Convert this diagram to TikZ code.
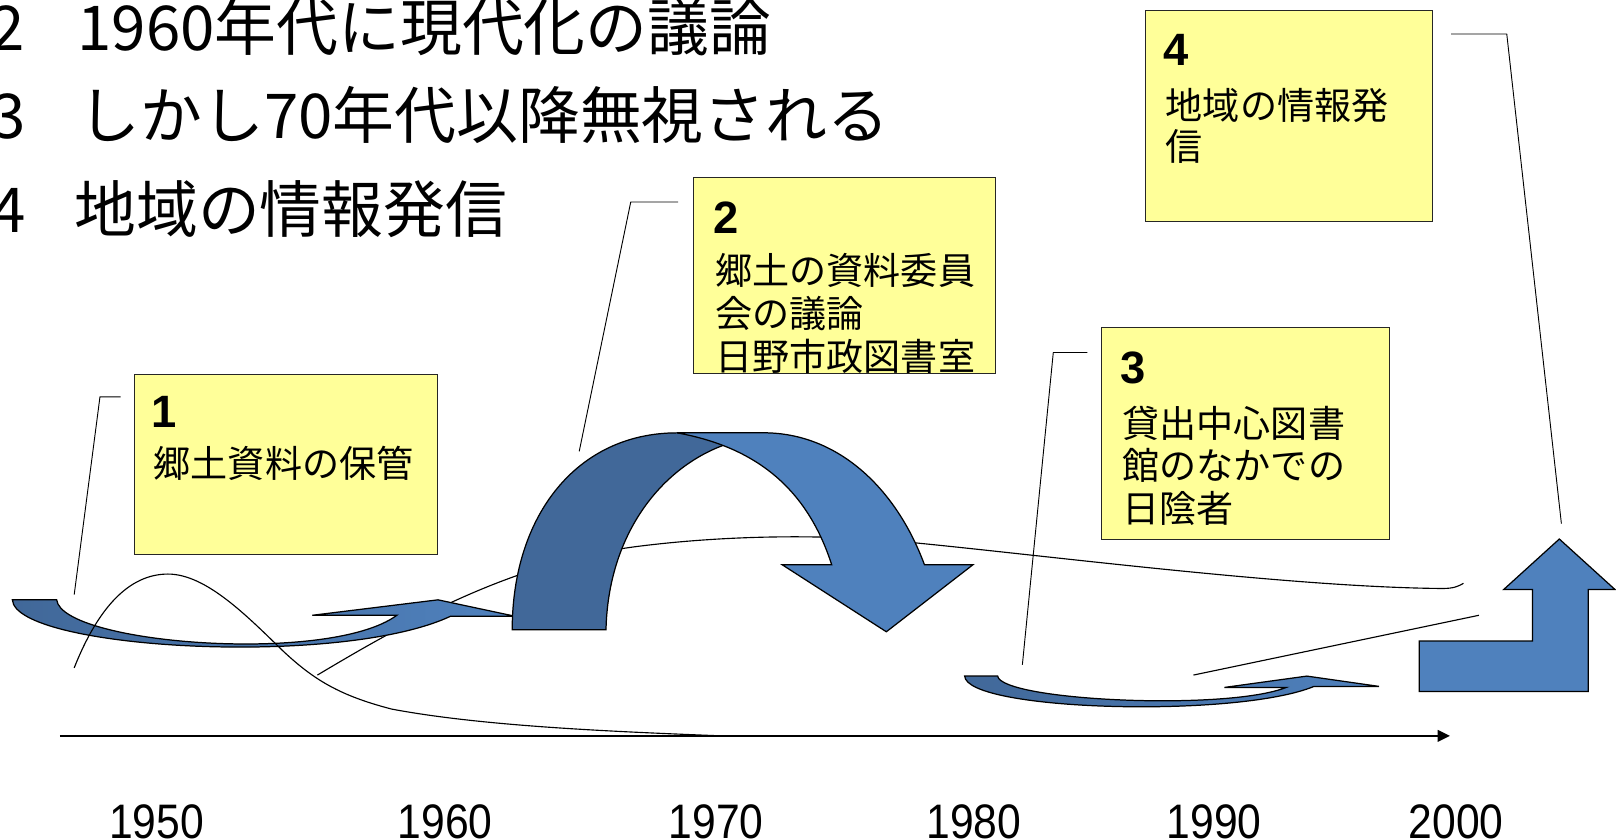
\documentclass[tikz,border=0pt]{standalone}
\usepackage{fontspec}
\usetikzlibrary{arrows.meta}
\newfontfamily\jpfont{Noto Sans CJK JP}
\newfontfamily\numfont{Liberation Sans}
\newfontfamily\yearfont[FakeStretch=0.88]{Liberation Sans}
\definecolor{bdark}{RGB}{65,104,153}
\definecolor{blight}{RGB}{79,129,189}
\definecolor{notefill}{RGB}{255,255,153}
\begin{document}
\begin{tikzpicture}[x=1pt,y=-1pt,
  notebox/.style={draw=black!85, fill=notefill, line width=0.9pt, inner sep=0pt},
  boxnum/.style={anchor=west, inner sep=0pt, font=\numfont\bfseries\fontsize{44}{44}\selectfont},
  boxtxt/.style={anchor=west, inner sep=0pt, align=left, font=\jpfont\fontsize{36}{41}\selectfont},
  titletxt/.style={anchor=west, inner sep=0pt, font=\jpfont\fontsize{60}{70}\selectfont},
  yearlbl/.style={inner sep=0pt, font=\yearfont\fontsize{47}{47}\selectfont},
  fineline/.style={draw=black, line width=0.9pt},
  curveline/.style={draw=black, line width=1.1pt},
  shapeline/.style={draw=black, line width=1.2pt, line join=miter},
  shadedarrow/.style={shapeline, left color=bdark, right color=blight},
]
\fill[white] (0,0) rectangle (1568,814);
\path[use as bounding box] (0,0) rectangle (1568,814);

% title lines
\node[titletxt] (title2) at (-9,26) {\makebox[84pt][l]{2}1960年代に現代化の議論};
\node[titletxt] (title3) at (-8,112) {\makebox[84pt][l]{3}しかし70年代以降無視される};
\node[titletxt] (title4) at (-8,203) {\makebox[80pt][l]{4}地域の情報発信};

% background curves
\draw[curveline] (308,655) .. controls (400,600) and (500,545) .. (620,530)
  .. controls (700,520) and (790,518) .. (870,525)
  .. controls (1000,537) and (1250,570) .. (1400,571)
  .. controls (1410,571) and (1415,569) .. (1420,566);
\coordinate (lcA) at (1158,655);
\coordinate (lcB) at (1435,597);
\draw[curveline] (lcA) -- (lcB);

% curved arrow 1
\shadedraw[shadedarrow] (12,582) -- (55,582) .. controls (60,625) and (320,645) .. (385,597)
  -- (303,597) -- (425,582) -- (500,598) -- (437,598)
  .. controls (330,648) and (15,630) .. (12,582) -- cycle;

% big arch arrow: dark leg
\filldraw[shapeline, fill=bdark] (497,611) .. controls (497,500) and (560,420) .. (657,420)
  -- (725,420) -- (702,432) .. controls (640,455) and (590,520) .. (588,611) -- cycle;
% light band with head
\filldraw[shapeline, fill=blight] (657,420) -- (745,420) .. controls (815,422) and (870,475) .. (897,548)
  -- (944,548) -- (860,613) -- (759,548) -- (807,548)
  .. controls (785,480) and (740,435) .. (657,420) -- cycle;

% curved arrow 3
\shadedraw[shadedarrow] (936,656) -- (968,656) .. controls (972,680) and (1190,690) .. (1248,667)
  -- (1188,667) -- (1268,656) -- (1338,666) -- (1275,666)
  .. controls (1200,697) and (938,690) .. (936,656) -- cycle;

% bent-up arrow
\filldraw[shapeline, fill=blight] (1377,622) -- (1487,622) -- (1487,572) -- (1459,572)
  -- (1513,523) -- (1567,572) -- (1541,572) -- (1541,671) -- (1377,671) -- cycle;

% bell curve
\draw[curveline] (72,648) .. controls (95,590) and (125,557) .. (163,557)
  .. controls (200,557) and (240,598) .. (275,632)
  .. controls (305,660) and (330,675) .. (380,688)
  .. controls (470,705) and (600,710) .. (700,714);

% time axis
\coordinate (axL) at (58,714);
\coordinate (axR) at (1407,714);
\draw[line width=2.5pt, -{Triangle[length=12pt,width=11pt]}] (axL) -- (axR);

% year labels
\node[yearlbl] (y1950) at (152,797) {1950};
\node[yearlbl] (y1960) at (432,797) {1960};
\node[yearlbl] (y1970) at (695,797) {1970};
\node[yearlbl] (y1980) at (945,797) {1980};
\node[yearlbl] (y1990) at (1178,797) {1990};
\node[yearlbl] (y2000) at (1413,797) {2000};

% note boxes
\node[notebox, minimum width=294pt, minimum height=175pt] (box1) at (277,450.5) {};
\node[notebox, minimum width=293pt, minimum height=190pt] (box2) at (819.5,267) {};
\node[notebox, minimum width=279pt, minimum height=205pt] (box3) at (1208.5,420.5) {};
\node[notebox, minimum width=279pt, minimum height=205pt] (box4) at (1250.5,112.5) {};

\node[boxnum] (n1) at (147,400) {1};
\node[boxtxt] (t1) at (149,450) {郷土資料の保管};
\node[boxnum] (n2) at (692,211) {2};
\node[boxtxt, font=\jpfont\fontsize{36}{42}\selectfont] (t2) at (694,304) {郷土の資料委員\\会の議論\\日野市政図書室};
\node[boxnum] (n3) at (1087,357) {3};
\node[boxtxt] (t3) at (1089,452) {貸出中心図書\\館のなかでの\\日陰者};
\node[boxnum] (n4) at (1129,48) {4};
\node[boxtxt, font=\jpfont\fontsize{36}{40}\selectfont] (t4) at (1131,122) {地域の情報発\\信};

% callout lines
\coordinate (c1a) at (117,385); \coordinate (c1b) at (97,385); \coordinate (c1c) at (72,577);
\draw[fineline] (c1a) -- (c1b) -- (c1c);
\coordinate (c2a) at (658,196); \coordinate (c2b) at (612,196); \coordinate (c2c) at (562,438);
\draw[fineline] (c2a) -- (c2b) -- (c2c);
\coordinate (c3a) at (1055,342); \coordinate (c3b) at (1022,342); \coordinate (c3c) at (992,645);
\draw[fineline] (c3a) -- (c3b) -- (c3c);
\coordinate (c4a) at (1408,33); \coordinate (c4b) at (1462,33); \coordinate (c4c) at (1515,508);
\draw[fineline] (c4a) -- (c4b) -- (c4c);
\end{tikzpicture}
\end{document}
